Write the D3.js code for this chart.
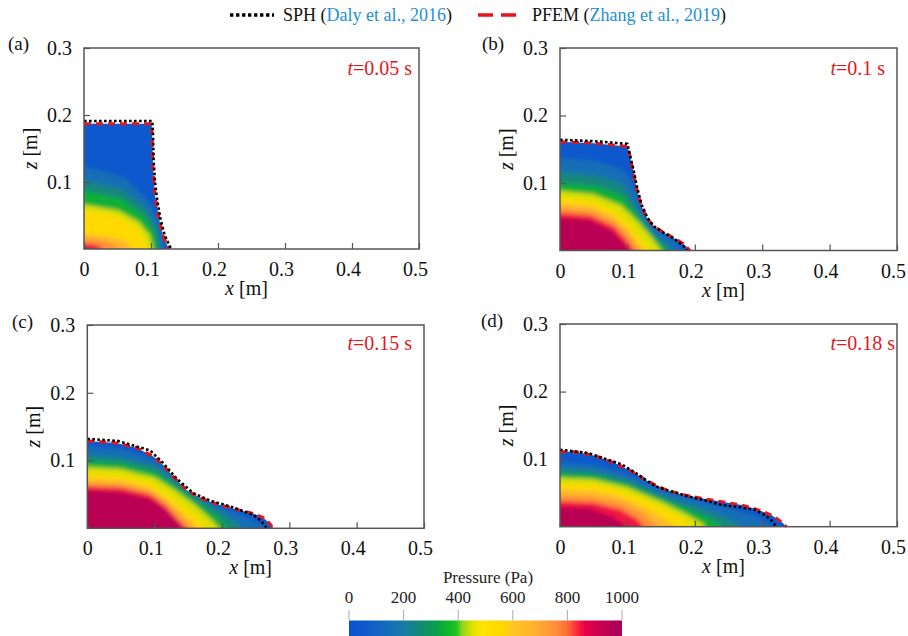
<!DOCTYPE html>
<html>
<head>
<meta charset="utf-8">
<script src="https://cdn.jsdelivr.net/npm/d3@7"></script>
<style>
  body { margin: 0; background: #fff; }
</style>
</head>
<body>
<div id="chart"></div>
<script>
// ---- data ----
const xTicks = [0, 0.1, 0.2, 0.3, 0.4, 0.5];
const zTicks = [0.1, 0.2, 0.3];
const panelTags = ['(a)', '(b)', '(c)', '(d)'];
const times = ['0.05', '0.1', '0.15', '0.18'];
const cbTicks = [0, 200, 400, 600, 800, 1000];

// colour map of the pressure bar (Pa -> colour)
const cmapStops = [0, 100, 200, 270, 320, 370, 395, 415, 450, 485, 555, 600, 690, 760, 805, 840, 865, 925, 1000];
const cmapColors = ['#0a50d2', '#1262c6', '#1a7aa6', '#128c6c', '#09a048', '#12ba26', '#28c41e', '#90d41e',
  '#dce000', '#ffe600', '#ffd800', '#ffc622', '#ffac30', '#ff8c38', '#ff6438', '#f82040', '#e60048', '#c20050', '#a6005a'];

// iso-pressure levels (Pa), one curve per level, from x=0 down to z=0
const isoLevels = [100, 200, 300, 400, 500, 600, 700, 800, 900];

// free surfaces [x, z] in m
const sphA = [[0,0.191],[0.05,0.191],[0.102,0.191],[0.103,0.17],[0.104,0.13],[0.106,0.1],[0.109,0.075],[0.114,0.045],[0.12,0.022],[0.126,0.008],[0.13,0]];
const pfemA = [[0,0.187],[0.05,0.187],[0.101,0.187],[0.102,0.16],[0.103,0.12],[0.106,0.08],[0.112,0.045],[0.118,0.02],[0.124,0.006],[0.127,0]];
const sphB = [[0,0.164],[0.05,0.162],[0.1,0.158],[0.104,0.14],[0.109,0.12],[0.114,0.095],[0.121,0.068],[0.13,0.048],[0.139,0.036],[0.153,0.027],[0.17,0.017],[0.182,0.008],[0.189,0]];
const pfemB = [[0,0.161],[0.05,0.159],[0.1,0.154],[0.104,0.14],[0.108,0.12],[0.113,0.095],[0.12,0.068],[0.128,0.05],[0.137,0.038],[0.15,0.029],[0.168,0.019],[0.183,0.01],[0.193,0]];
const sphC = [[0,0.132],[0.045,0.129],[0.093,0.115],[0.112,0.097],[0.132,0.074],[0.157,0.052],[0.182,0.041],[0.216,0.031],[0.246,0.02],[0.258,0.011],[0.265,0.002],[0.266,0]];
const pfemC = [[0,0.129],[0.043,0.126],[0.073,0.119],[0.098,0.106],[0.112,0.094],[0.127,0.077],[0.147,0.057],[0.167,0.045],[0.192,0.036],[0.221,0.028],[0.246,0.022],[0.261,0.016],[0.271,0.007],[0.276,0]];
const sphD = [[0,0.114],[0.042,0.109],[0.092,0.092],[0.116,0.077],[0.141,0.06],[0.166,0.052],[0.19,0.045],[0.215,0.039],[0.24,0.032],[0.265,0.029],[0.289,0.025],[0.304,0.017],[0.314,0.009],[0.321,0]];
const pfemD = [[0,0.111],[0.022,0.111],[0.052,0.105],[0.082,0.094],[0.106,0.082],[0.131,0.067],[0.156,0.055],[0.18,0.048],[0.21,0.042],[0.24,0.037],[0.27,0.032],[0.294,0.025],[0.314,0.017],[0.329,0.007],[0.336,0]];

// iso-pressure curves per panel
const isoA = [
  [[0,0.123],[0.06,0.107],[0.096,0.074],[0.114,0.038],[0.12,0]],
  [[0,0.103],[0.0575,0.089],[0.092,0.062],[0.109,0.032],[0.115,0]],
  [[0,0.087],[0.055,0.075],[0.088,0.052],[0.1045,0.027],[0.11,0]],
  [[0,0.066],[0.0515,0.057],[0.082,0.04],[0.098,0.02],[0.103,0]],
  [[0,0.058],[0.047,0.05],[0.075,0.035],[0.089,0.018],[0.094,0]],
  [[0,0.022],[0.036,0.019],[0.058,0.013],[0.068,0.007],[0.072,0]],
  [[0,0.015],[0.025,0.013],[0.04,0.009],[0.0475,0.0047],[0.05,0]],
  [[0,0.008],[0.014,0.007],[0.022,0.005],[0.028,0]],
  [[0,0.003],[0.012,0]]
];
const isoB = [
  [[0,0.137],[0.05,0.133],[0.09,0.122],[0.105,0.105],[0.115,0.08],[0.125,0.055],[0.145,0.03],[0.17,0.014],[0.182,0]],
  [[0,0.116],[0.05,0.112],[0.09,0.1],[0.105,0.08],[0.12,0.05],[0.14,0.025],[0.168,0]],
  [[0,0.1],[0.05,0.096],[0.09,0.083],[0.11,0.06],[0.13,0.032],[0.158,0]],
  [[0,0.088],[0.05,0.083],[0.09,0.067],[0.115,0.043],[0.135,0.02],[0.15,0]],
  [[0,0.078],[0.045,0.073],[0.08,0.059],[0.1,0.041],[0.12,0.016],[0.134,0]],
  [[0,0.07],[0.045,0.066],[0.08,0.051],[0.1,0.032],[0.115,0.012],[0.125,0]],
  [[0,0.063],[0.045,0.059],[0.08,0.043],[0.1,0.024],[0.118,0]],
  [[0,0.056],[0.045,0.052],[0.08,0.036],[0.098,0.016],[0.11,0]],
  [[0,0.048],[0.045,0.045],[0.078,0.029],[0.095,0.01],[0.103,0]]
];
const isoC = [
  [[0,0.12],[0.05,0.117],[0.1,0.101],[0.125,0.082],[0.15,0.058],[0.19,0.034],[0.23,0.019],[0.255,0.007],[0.262,0]],
  [[0,0.108],[0.05,0.104],[0.1,0.092],[0.13,0.07],[0.17,0.042],[0.2,0.024],[0.222,0.008],[0.228,0]],
  [[0,0.099],[0.05,0.096],[0.1,0.084],[0.13,0.063],[0.165,0.037],[0.195,0.015],[0.21,0]],
  [[0,0.09],[0.05,0.087],[0.1,0.075],[0.13,0.056],[0.16,0.034],[0.185,0.012],[0.195,0]],
  [[0,0.08],[0.05,0.078],[0.093,0.067],[0.117,0.052],[0.142,0.032],[0.167,0.012],[0.177,0]],
  [[0,0.073],[0.05,0.071],[0.093,0.06],[0.117,0.044],[0.14,0.024],[0.16,0.006],[0.165,0]],
  [[0,0.067],[0.05,0.065],[0.093,0.055],[0.117,0.038],[0.138,0.018],[0.155,0]],
  [[0,0.062],[0.05,0.06],[0.093,0.05],[0.117,0.032],[0.135,0.012],[0.148,0]],
  [[0,0.056],[0.045,0.054],[0.093,0.044],[0.117,0.027],[0.137,0.007],[0.142,0]]
];
const isoD = [
  [[0,0.095],[0.05,0.092],[0.1,0.078],[0.15,0.055],[0.2,0.04],[0.25,0.027],[0.29,0.015],[0.31,0.005],[0.315,0]],
  [[0,0.086],[0.05,0.083],[0.1,0.07],[0.15,0.047],[0.2,0.031],[0.24,0.016],[0.26,0.006],[0.268,0]],
  [[0,0.079],[0.05,0.076],[0.1,0.064],[0.15,0.042],[0.2,0.022],[0.23,0.008],[0.24,0]],
  [[0,0.072],[0.05,0.07],[0.1,0.058],[0.15,0.037],[0.19,0.017],[0.21,0.005],[0.215,0]],
  [[0,0.064],[0.05,0.062],[0.091,0.053],[0.141,0.033],[0.18,0.013],[0.195,0]],
  [[0,0.055],[0.05,0.053],[0.09,0.044],[0.13,0.026],[0.16,0.008],[0.168,0]],
  [[0,0.046],[0.05,0.044],[0.09,0.036],[0.12,0.021],[0.14,0.006],[0.145,0]],
  [[0,0.038],[0.05,0.036],[0.09,0.026],[0.115,0.011],[0.125,0]],
  [[0,0.029],[0.042,0.028],[0.077,0.016],[0.092,0.005],[0.097,0]]
];

const sph = [sphA, sphB, sphC, sphD];
const pfem = [pfemA, pfemB, pfemC, pfemD];
const iso = [isoA, isoB, isoC, isoD];

// ---- layout ----
const W = 908, H = 636;
const SERIF = '"Liberation Serif", "Times New Roman", serif';
const boxes = [
  { x0: 84,   y0: 48,  x1: 419, y1: 249,   tx: 412, ty: 75,  lx: 8,   ly: 50 },
  { x0: 560,  y0: 48,  x1: 897, y1: 250.5, tx: 885, ty: 75,  lx: 482, ly: 50 },
  { x0: 87.3, y0: 325, x1: 424, y1: 528.3, tx: 412, ty: 350, lx: 12,  ly: 328 },
  { x0: 560,  y0: 324, x1: 897, y1: 526.7, tx: 895, ty: 350, lx: 481, ly: 327 }
];
const RED = '#e8141c', BLUE = '#1e8fd5', AXIS = '#555';

const color = d3.scaleLinear().domain(cmapStops).range(cmapColors).clamp(true);

const svg = d3.select('#chart').append('svg')
  .attr('width', W).attr('height', H)
  .attr('font-family', SERIF);
const defs = svg.append('defs');
defs.append('filter').attr('id', 'soft')
  .attr('x', '-10%').attr('y', '-10%').attr('width', '120%').attr('height', '120%')
  .append('feGaussianBlur').attr('stdDeviation', 2);

// ---- legend ----
const leg = svg.append('g');
leg.append('line').attr('x1', 230).attr('x2', 274).attr('y1', 15).attr('y2', 15)
  .attr('stroke', '#000').attr('stroke-width', 3.4).attr('stroke-dasharray', '3.4,2.6');
const t1 = leg.append('text').attr('x', 283).attr('y', 21).attr('font-size', 18).attr('fill', '#111');
t1.append('tspan').text('SPH (');
t1.append('tspan').attr('fill', BLUE).text('Daly et al., 2016');
t1.append('tspan').text(')');
leg.append('line').attr('x1', 478).attr('x2', 516).attr('y1', 15).attr('y2', 15)
  .attr('stroke', RED).attr('stroke-width', 3.4).attr('stroke-dasharray', '15,8');
const t2 = leg.append('text').attr('x', 532).attr('y', 21).attr('font-size', 18).attr('fill', '#111');
t2.append('tspan').text('PFEM (');
t2.append('tspan').attr('fill', BLUE).text('Zhang et al., 2019');
t2.append('tspan').text(')');

// ---- panels ----
boxes.forEach((b, i) => {
  const x = d3.scaleLinear().domain([0, 0.5]).range([b.x0, b.x1]);
  const z = d3.scaleLinear().domain([0, 0.3]).range([b.y1, b.y0]);
  const line = d3.line().x(d => x(d[0])).y(d => z(d[1]));
  const g = svg.append('g');

  // fluid outline (PFEM surface closed on the bed) used as clip
  defs.append('clipPath').attr('id', 'fluid' + i)
    .append('path').attr('d', line([[0, 0], ...pfem[i]]) + 'Z');

  const field = g.append('g').attr('clip-path', `url(#fluid${i})`)
    .append('g').attr('filter', 'url(#soft)');
  field.append('rect')
    .attr('x', x(-0.03)).attr('y', z(0.3))
    .attr('width', x(0.5) - x(-0.03)).attr('height', z(-0.03) - z(0.3))
    .attr('fill', color(isoLevels[0] / 2));
  iso[i].forEach((c, k) => {
    const pts = [[-0.03, c[0][1]], ...c, [c[c.length - 1][0], -0.03], [-0.03, -0.03]];
    const next = k + 1 < isoLevels.length ? isoLevels[k + 1] : 1000;
    field.append('path')
      .attr('d', line(pts) + 'Z')
      .attr('fill', color((isoLevels[k] + next) / 2));
  });

  // free surfaces
  g.append('path').attr('d', line(pfem[i]))
    .attr('fill', 'none').attr('stroke', RED).attr('stroke-width', 3)
    .attr('stroke-dasharray', '7,5');
  g.append('path').attr('d', line(sph[i]))
    .attr('fill', 'none').attr('stroke', '#000').attr('stroke-width', 2.6)
    .attr('stroke-dasharray', '2.6,2.4');

  // axes (inward ticks)
  const xAxis = d3.axisBottom(x).tickValues(xTicks)
    .tickSizeInner(-6).tickSizeOuter(0).tickPadding(13)
    .tickFormat(d => d === 0 ? '0' : d3.format('.1f')(d));
  const zAxis = d3.axisLeft(z).tickValues(zTicks)
    .tickSizeInner(-6).tickSizeOuter(0).tickPadding(12)
    .tickFormat(d3.format('.1f'));
  const gx = g.append('g').attr('transform', `translate(0,${b.y1})`).call(xAxis);
  const gz = g.append('g').attr('transform', `translate(${b.x0},0)`).call(zAxis);
  [gx, gz].forEach(a => {
    a.attr('font-family', SERIF).attr('font-size', 20);
    a.select('.domain').remove();
    a.selectAll('line').attr('stroke', AXIS).attr('stroke-width', 1.2);
    a.selectAll('text').attr('fill', '#111');
  });
  gx.selectAll('text').attr('dx', d => d === 0 ? 0 : -4);
  g.append('rect').attr('x', b.x0).attr('y', b.y0)
    .attr('width', b.x1 - b.x0).attr('height', b.y1 - b.y0)
    .attr('fill', 'none').attr('stroke', AXIS).attr('stroke-width', 1.5);

  // axis titles
  const xt = g.append('text').attr('x', (b.x0 + b.x1) / 2 - 5).attr('y', b.y1 + 46)
    .attr('text-anchor', 'middle').attr('font-size', 20).attr('fill', '#111');
  xt.append('tspan').attr('font-style', 'italic').text('x');
  xt.append('tspan').text(' [m]');
  const zt = g.append('text')
    .attr('transform', `translate(${b.x0 - 47},${(b.y0 + b.y1) / 2}) rotate(-90)`)
    .attr('text-anchor', 'middle').attr('font-size', 20).attr('fill', '#111');
  zt.append('tspan').attr('font-style', 'italic').text('z');
  zt.append('tspan').text(' [m]');

  // time stamp and panel tag
  const tt = g.append('text').attr('x', b.tx).attr('y', b.ty)
    .attr('text-anchor', 'end').attr('font-size', 20).attr('fill', RED);
  tt.append('tspan').attr('font-style', 'italic').text('t');
  tt.append('tspan').text('=' + times[i] + ' s');
  g.append('text').attr('x', b.lx).attr('y', b.ly)
    .attr('font-size', 19).attr('fill', '#111').text(panelTags[i]);
});

// ---- colour bar ----
const cb = d3.scaleLinear().domain([0, 1000]).range([349, 622]);
const grad = defs.append('linearGradient').attr('id', 'cbar')
  .attr('x1', '0%').attr('x2', '100%');
cmapStops.forEach((s, k) => {
  grad.append('stop').attr('offset', (s / 1000 * 100) + '%').attr('stop-color', cmapColors[k]);
});
const cbg = svg.append('g');
cbg.append('rect').attr('x', cb(0)).attr('y', 620.5)
  .attr('width', cb(1000) - cb(0)).attr('height', 16).attr('fill', 'url(#cbar)');
cbg.selectAll('line.cbt').data(cbTicks).enter().append('line')
  .attr('x1', d => cb(d)).attr('x2', d => cb(d))
  .attr('y1', 610).attr('y2', 620.5)
  .attr('stroke', '#aaa').attr('stroke-width', 1);
cbg.selectAll('text.cbl').data(cbTicks).enter().append('text')
  .attr('x', d => cb(d)).attr('y', 603)
  .attr('text-anchor', 'middle').attr('font-size', 17).attr('fill', '#222')
  .text(d => d);
cbg.append('text').attr('x', 488).attr('y', 583)
  .attr('text-anchor', 'middle').attr('font-size', 17).attr('fill', '#222')
  .text('Pressure (Pa)');
</script>
</body>
</html>
